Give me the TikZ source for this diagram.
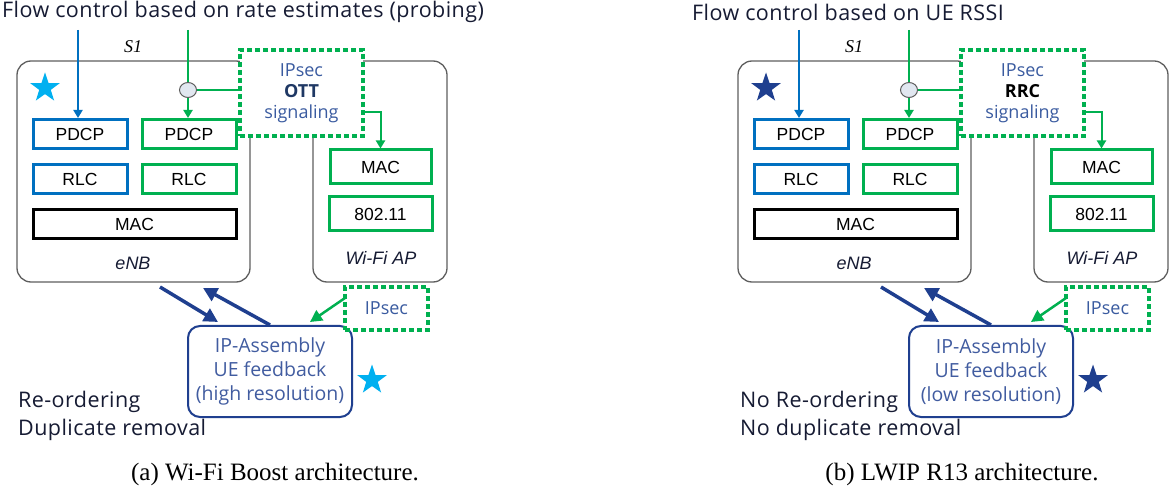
\documentclass[tikz,border=0pt]{standalone}
\usepackage{fontspec}
\setmainfont{Liberation Serif}
\newfontfamily\hum{Open Sans}
\newfontfamily\humw[LetterSpace=2]{Open Sans}
\newfontfamily\ari{Liberation Sans}
\usetikzlibrary{arrows.meta,shapes.geometric}
\definecolor{cBlue}{HTML}{0070C0}
\definecolor{cGreen}{HTML}{00B050}
\definecolor{cNavy}{HTML}{1F3F8F}
\definecolor{cSky}{HTML}{00B0F0}
\definecolor{cText}{HTML}{161B33}
\definecolor{cIPsec}{HTML}{3A5BA0}
\definecolor{cOTT}{HTML}{1F3864}
\definecolor{cGray}{HTML}{5E5E5E}
\definecolor{cCirc}{HTML}{E1E7F0}
\tikzset{
  titlef/.style={font=\humw\fontsize{21.5}{22}\selectfont, text=cText, inner sep=0},
  unitbox/.style={draw=cGray, line width=1.3, rounded corners=14, fill=white},
  dotbox/.style={draw=cGreen, line width=3.5, dash pattern=on 5 off 3, fill=white, align=center,
     font=\hum\fontsize{18}{21}\selectfont},
  layer/.style={line width=3, minimum width=94, minimum height=29, inner sep=0,
     font=\ari\fontsize{17.5}{20}\selectfont},
  flow/.style={line width=2, -{Triangle[length=8,width=9]}},
  fb/.style={cNavy, line width=3.5, -{Triangle[length=14,width=14]}},
  gfb/.style={cGreen, line width=2.5, -{Triangle[length=12,width=12]}},
  ipabox/.style={draw=cNavy, line width=2, rounded corners=12, minimum width=164,
     minimum height=91, align=center, text=cNavy!85, font=\hum\fontsize{19.5}{24}\selectfont},
  starn/.style={star, star points=5, star point ratio=2.55, minimum size=31, inner sep=0},
  lbl/.style={font=\ari\itshape\fontsize{18}{20}\selectfont, text=cText},
  bottomt/.style={font=\humw\fontsize{21.5}{24}\selectfont, text=cText, anchor=west, inner sep=0},
  capt/.style={font=\fontsize{25}{28}\selectfont, inner sep=0}
}
\newcommand\panel[7]{%
\begin{scope}[xshift=#1, name prefix=#2-]
  \node[titlef, anchor=west] (title) at (#3,12) {#4};
  \coordinate (btop) at (78,30);
  \coordinate (gtop) at (188,30);
  \node[font=\itshape\fontsize{18}{20}\selectfont, inner sep=0] (s1) at (133,47) {S1};
  \node[unitbox, minimum width=233, minimum height=221] (enb) at (133.5,171.5) {};
  \node[unitbox, minimum width=134, minimum height=221] (wifi) at (380,171.5) {};
  \node[dotbox, minimum width=123, minimum height=86] (sig) at (301.5,93)
     {\textcolor{cIPsec}{IPsec}\\ \textbf{#6}\\ \textcolor{cIPsec}{signaling}};
  \node[starn, fill=#5] (star) at (45,88) {};
  \node[layer, draw=cBlue] (pdcpB) at (80,134) {PDCP};
  \node[layer, draw=cGreen] (pdcpG) at (189,134) {PDCP};
  \node[layer, draw=cBlue] (rlcB) at (80,179) {RLC};
  \node[layer, draw=cGreen] (rlcG) at (189,179) {RLC};
  \node[layer, draw=black, minimum width=203] (mac) at (134.5,224) {MAC};
  \node[layer, draw=cGreen, minimum width=101, minimum height=34] (wmac) at (380.5,167) {MAC};
  \node[layer, draw=cGreen, minimum width=103, minimum height=34] (w80211) at (380.5,214) {802.11};
  \node[lbl] (enbl) at (133,263) {eNB};
  \node[lbl] (wifil) at (381,258) {Wi-Fi AP};
  \node[ellipse, draw=cGray, fill=cCirc, line width=1, minimum width=17, minimum height=15, inner sep=0] (circ) at (188,90) {};
  \draw[flow, cBlue] (btop) -- (btop |- pdcpB.north);
  \draw[cGreen, line width=2] (gtop) -- (circ.north);
  \draw[flow, cGreen] (circ.south) -- (circ.south |- pdcpG.north);
  \draw[cGreen, line width=2] (circ.east) -- (circ.east -| sig.west);
  \coordinate (sigout) at (363,112);
  \draw[flow, cGreen] (sigout) -| (wmac.north);
  % bottom
  \node[ipabox] (ipa) at (270,371.5) {IP-Assembly\\UE feedback\\#7};
  \node[dotbox, minimum width=83, minimum height=43] (ips2) at (386.5,308.5) {\textcolor{cIPsec}{IPsec}};
  \node[starn, fill=#5] (star2) at (372,380) {};
  \coordinate (f1s) at (160,287);
  \coordinate (f1e) at (218,322);
  \draw[fb] (f1s) -- (f1e);
  \coordinate (f2e) at (203,288);
  \draw[fb] (ipa.north) -- (f2e);
  \coordinate (g2s) at (345,298);
  \coordinate (g2e) at (310,322);
  \draw[gfb] (g2s) -- (g2e);
\end{scope}}
\begin{document}
\begin{tikzpicture}[x=1pt,y=-1pt]
  \useasboundingbox[fill=white] (0,0) rectangle (1170,486);
  \panel{0pt}{L}{2}{Flow control based on rate estimates (probing)}{cSky}{\textcolor{cOTT}{OTT}}{(high resolution)}
  \panel{721pt}{R}{-29}{Flow control based on UE RSSI}{cNavy}{\textcolor{black}{RRC}}{(low resolution)}
  \node[bottomt] (l1) at (18,402) {Re-ordering};
  \node[bottomt] (l2) at (18,430) {Duplicate removal};
  \node[bottomt] (r1) at (740,402) {No Re-ordering};
  \node[bottomt] (r2) at (740,430) {No duplicate removal};
  \node[capt] (capa) at (275,474) {(a) Wi-Fi Boost architecture.};
  \node[capt] (capb) at (962,474) {(b) LWIP R13 architecture.};
\end{tikzpicture}
\end{document}
